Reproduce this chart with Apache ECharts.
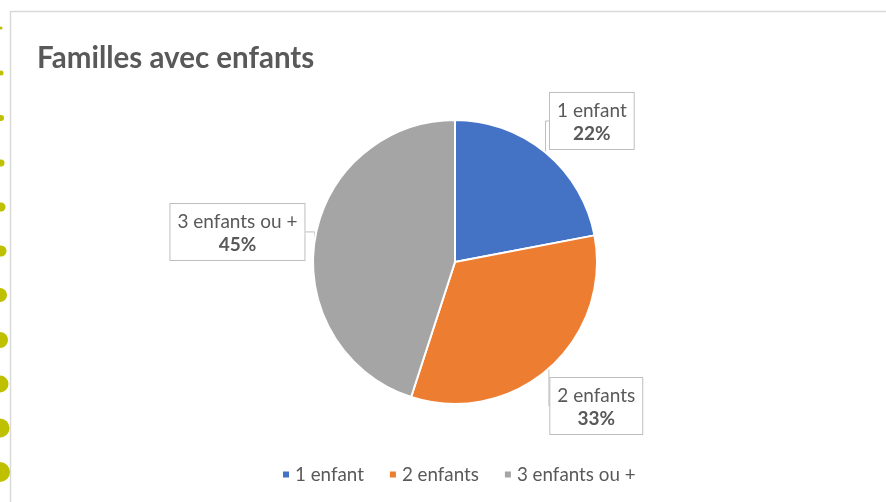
<!DOCTYPE html>
<html><head><meta charset="utf-8">
<script src="https://cdn.jsdelivr.net/npm/echarts@6/dist/echarts.min.js"></script>
<style>html,body{margin:0;padding:0;background:#fff}#c{width:886px;height:502px}</style>
</head><body><div id="c"></div>
<script>
const categories = ['1 enfant', '2 enfants', '3 enfants ou +'];
const values = [22, 33, 45];
const colors = ['#4472C4', '#ED7D31', '#A5A5A5'];
const titleText = 'Familles avec enfants';
const dotYs = [28, 73, 118, 163, 207, 251, 295, 340, 384, 428, 472];
const dotRs = [1.5, 2.5, 3, 3.5, 4.5, 5.5, 7, 8, 8.5, 9.5, 10];

const FONT = 'Lato, "Open Sans", sans-serif';
const chart = echarts.init(document.getElementById('c'));
const W = 886, H = 502;
// label anchor positions (fractions of chart size)
const labelPos = [[0.668, 0.241], [0.673, 0.809], [0.268, 0.462]];

const graphics = [{
  type: 'rect', shape: {x: 10.5, y: 11.5, width: 900, height: 520},
  style: {fill: '#fff', stroke: '#d9d9d9', lineWidth: 1.5}, z: -10
}];
dotYs.forEach((y, i) => graphics.push({
  type: 'circle', shape: {cx: i < 6 ? 1 : 0, cy: y, r: dotRs[i]},
  style: {fill: '#BFC000'}, z: -5
}));

chart.setOption({
  backgroundColor: '#fff',
  color: colors,
  title: {
    text: titleText, left: 37, top: 43, padding: 0,
    textStyle: {fontFamily: FONT, fontWeight: 'bold', fontSize: 29.5, color: '#595959'}
  },
  legend: {
    bottom: 13, left: 276, icon: 'rect', itemWidth: 8, itemHeight: 8, itemGap: 24,
    textStyle: {fontFamily: FONT, fontSize: 18.8, color: '#595959'},
    data: categories
  },
  graphic: graphics,
  series: [{
    type: 'pie',
    center: [455, 262], radius: 142,
    startAngle: 90, clockwise: true,
    data: categories.map((c, i) => ({name: c, value: values[i]})),
    itemStyle: {borderColor: '#fff', borderWidth: 2},
    label: {
      show: true, position: 'outside',
      formatter: p => '{n|' + p.name + '}\n{v|' + p.value + '%}',
      backgroundColor: '#fff', borderColor: '#bfbfbf', borderWidth: 1,
      padding: [6, 7, 4, 7],
      rich: {
        n: {fontFamily: FONT, fontSize: 19, color: '#595959', lineHeight: 23, align: 'center'},
        v: {fontFamily: FONT, fontSize: 19, fontWeight: 'bold', color: '#595959', lineHeight: 23, align: 'center'}
      }
    },
    labelLine: {show: true, length: 10, length2: 10, lineStyle: {color: '#bfbfbf', width: 1}},
    labelLayout: p => ({
      x: labelPos[p.dataIndex][0] * W, y: labelPos[p.dataIndex][1] * H,
      align: 'center', verticalAlign: 'middle'
    }),
    emphasis: {disabled: true}, animation: false
  }]
});
</script></body></html>
